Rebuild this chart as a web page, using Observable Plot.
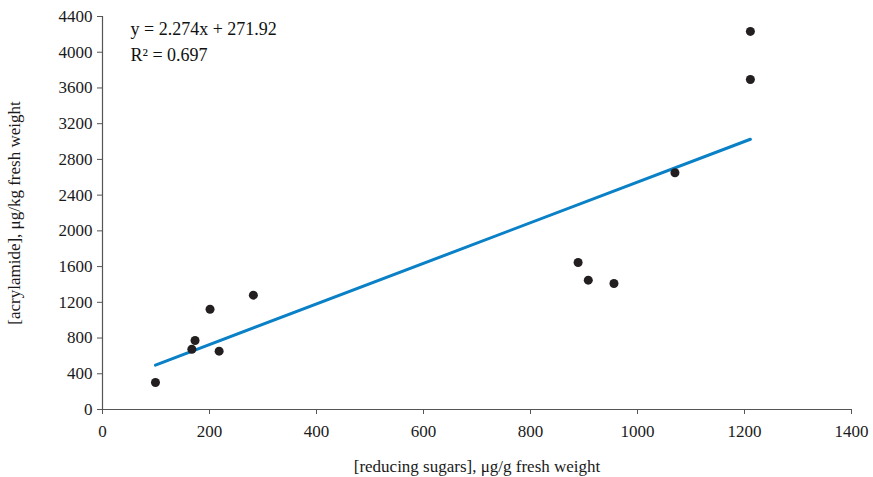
<!DOCTYPE html>
<html>
<head>
<meta charset="utf-8">
<script src="https://cdn.jsdelivr.net/npm/d3@7"></script>
<script src="https://cdn.jsdelivr.net/npm/@observablehq/plot@0.6"></script>
<style>
  html, body { margin: 0; padding: 0; background: #fff; }
  #chart svg { display: block; }
</style>
</head>
<body>
<div id="chart"></div>
<script>
// Data
const sugars     = [99, 167, 173, 201, 218, 282, 889, 908, 956, 1070, 1211, 1211];
const acrylamide = [302, 675, 773, 1123, 653, 1280, 1646, 1448, 1411, 2651, 4233, 3695];
const slope = 2.274;
const intercept = 271.92;
const equationText = "y = 2.274x + 271.92";
const r2Text = "R² = 0.697";
const xTicks = [0, 200, 400, 600, 800, 1000, 1200, 1400];
const yTicks = [0, 400, 800, 1200, 1600, 2000, 2400, 2800, 3200, 3600, 4000, 4400];

const points = sugars.map((s, i) => ({x: s, y: acrylamide[i]}));
const [xmin, xmax] = d3.extent(sugars);
const trend = [xmin, xmax].map(x => ({x, y: slope * x + intercept}));

const font = "Liberation Serif, Times New Roman, serif";

const chart = Plot.plot({
  width: 873,
  height: 477,
  marginLeft: 102,
  marginRight: 22,
  marginTop: 16,
  marginBottom: 68,
  style: {fontFamily: font, fontSize: "17px", color: "#1a1a1a", background: "#fff"},
  x: {domain: [0, 1400], ticks: xTicks},
  y: {domain: [0, 4400], ticks: yTicks},
  marks: [
    Plot.axisX({ticks: xTicks, tickFormat: d3.format("d"), tickSize: 5, tickPadding: 10, stroke: "#555", fontSize: 17,
      label: "[reducing sugars], μg/g fresh weight", labelAnchor: "center", labelArrow: false, labelOffset: 62}),
    Plot.axisY({ticks: yTicks, tickFormat: d3.format("d"), tickSize: 5, tickPadding: 5, stroke: "#555", fontSize: 17,
      label: "[acrylamide], μg/kg fresh weight", labelAnchor: "center", labelArrow: false, labelOffset: 95}),
    Plot.ruleX([0], {stroke: "#555", strokeWidth: 1.2}),
    Plot.ruleY([0], {stroke: "#555", strokeWidth: 1.2}),
    Plot.line(trend, {x: "x", y: "y", stroke: "#0a80c6", strokeWidth: 3}),
    Plot.dot(points, {x: "x", y: "y", r: 4.5, fill: "#231f20", stroke: "none"}),
    Plot.text([equationText], {frameAnchor: "top-left", dx: 28, dy: 6, fontSize: 18, fill: "#111", textAnchor: "start"}),
    Plot.text([r2Text], {frameAnchor: "top-left", dx: 28, dy: 32, fontSize: 18, fill: "#111", textAnchor: "start"})
  ]
});
document.getElementById("chart").appendChild(chart);
</script>
</body>
</html>
